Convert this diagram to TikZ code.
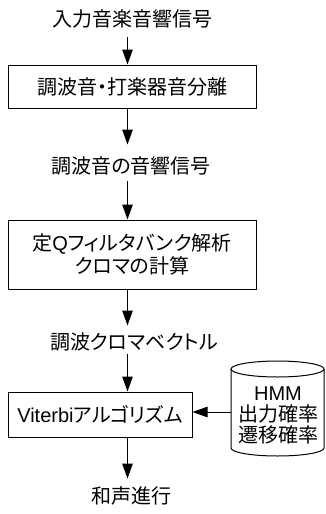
\documentclass[tikz,border=0pt]{standalone}
\usepackage{fontspec}
\setmainfont{Noto Sans CJK JP}[RawFeature=+palt]
\newfontfamily\lat{Liberation Sans}
\usetikzlibrary{arrows.meta}
\tikzset{
  lbl/.style={inner sep=0pt, font=\fontsize{20}{22}\selectfont},
  procbox/.style={draw, line width=1pt, inner sep=0pt, font=\fontsize{20}{22}\selectfont, align=center},
  arr/.style={line width=1pt, -{Triangle[length=15pt,width=10.5pt]}},
  cyl/.style={line width=1pt}
}
\begin{document}
\begin{tikzpicture}[x=1pt,y=-1pt]
\useasboundingbox (0,0) rectangle (325,514);
\coordinate (ax) at (127.5,0);
% text labels
\node[lbl] (t1) at (132,18.5) {入力音楽音響信号};
\node[lbl] (t2) at (131,166) {調波音の音響信号};
\node[lbl] (t3) at (134,342) {調波クロマベクトル};
\node[lbl] (t4) at (131.5,496) {和声進行};
% boxes
\node[procbox, minimum width=248pt, minimum height=43pt] (b1) at (132,86.5) {調波音・打楽器音分離};
\node[procbox, minimum width=248pt, minimum height=69pt] (b2) at (132,254.5)
  {\raisebox{0pt}{定{\lat Q}フィルタバンク解析}\\[1pt]クロマの計算};
\node[procbox, minimum width=184pt, minimum height=45pt] (b3) at (100,414.5) {{\lat Viterbi}アルゴリズム};
% cylinder (database)
\draw[cyl] (231,369) -- (231,448) arc[start angle=180, end angle=0, x radius=46.5, y radius=8] -- (324,369);
\draw[cyl] (277.5,369) ellipse[x radius=46.5, y radius=8];
\node[lbl, align=center] (db) at (278,415) {{\lat HMM}\\[-1pt]出力確率\\[-1pt]遷移確率};
\coordinate (dbw) at (231,412);
% connectors
\draw[arr, shorten <=9pt] (t1.south -| ax) -- (b1.north -| ax);
\draw[arr, shorten >=12pt] (b1.south -| ax) -- (t2.north -| ax);
\draw[arr, shorten <=6pt] (t2.south -| ax) -- (b2.north -| ax);
\draw[arr, shorten >=7pt] (b2.south -| ax) -- (t3.north -| ax);
\draw[arr, shorten <=3pt] (t3.south -| ax) -- (b3.north -| ax);
\draw[arr, shorten >=8pt] (b3.south -| ax) -- (t4.north -| ax);
\draw[arr] (dbw) -- (dbw -| b3.east);
\end{tikzpicture}
\end{document}
